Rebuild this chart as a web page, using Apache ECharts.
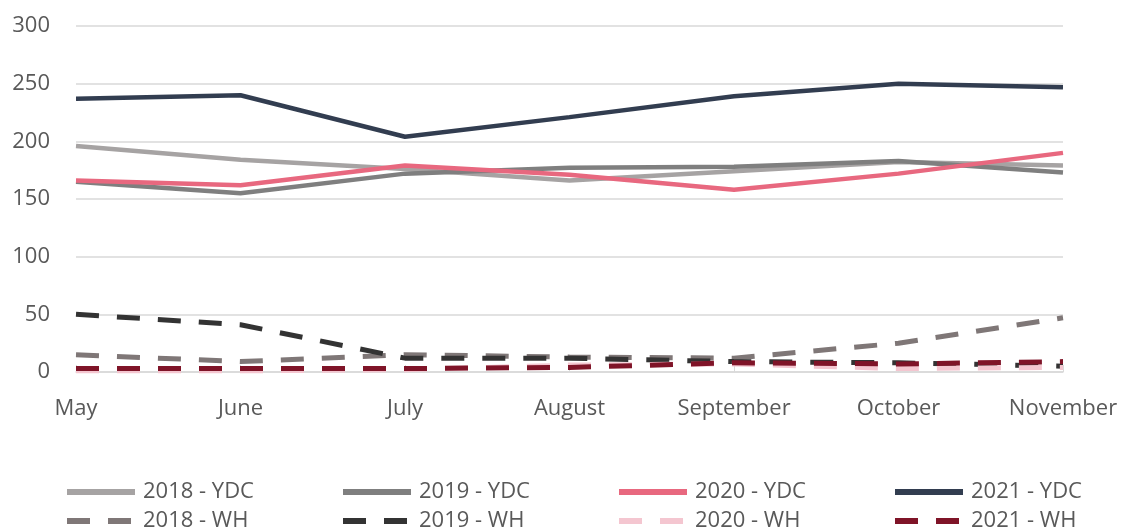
<!DOCTYPE html>
<html>
<head>
<meta charset="utf-8">
<script src="https://cdn.jsdelivr.net/npm/echarts@6/dist/echarts.min.js"></script>
<style>
  html, body { margin: 0; padding: 0; background: #fff; }
  #chart { width: 1122px; height: 530px; }
</style>
</head>
<body>
<div id="chart"></div>
<script>
(function () {
  'use strict';

  var months = ['May', 'June', 'July', 'August', 'September', 'October', 'November'];
  var yTicks = [0, 300, 50];

  var ydc2018 = [196, 184, 176, 166, 174, 182, 179];
  var ydc2019 = [165, 155, 172, 177, 178, 183, 173];
  var ydc2020 = [166, 162, 179, 171, 158, 172, 190];
  var ydc2021 = [237, 240, 204, 221, 239, 250, 247];

  var wh2018 = [15, 9, 15, 13, 12, 25, 47];
  var wh2019 = [50, 41, 12, 12, 9, 8, 5];
  var wh2020 = [1, 1, 2, 6, 7, 3, 4];
  var wh2021 = [3, 3, 3, 4, 8, 7, 9];

  var font = '"Open Sans", "Noto Sans", sans-serif';
  var textColor = '#595959';

  function line(name, data, color, dashed) {
    return {
      name: name,
      type: 'line',
      data: data,
      symbol: 'none',
      showSymbol: false,
      lineStyle: {
        color: color,
        width: dashed ? 5 : 4.5,
        type: dashed ? [23, 18] : 'solid',
        cap: 'butt'
      },
      itemStyle: { color: color }
    };
  }

  // one legend per item so the 4x2 layout is exact
  function legend(left, top, name) {
    return {
      left: left,
      top: top,
      itemWidth: 68,
      itemHeight: 14,
      data: [name],
      itemStyle: { opacity: 0 },
      lineStyle: { width: 6 },
      textStyle: {
        color: textColor,
        fontFamily: font,
        fontSize: 22,
        padding: [0, 0, 0, 3]
      }
    };
  }

  var myChart = echarts.init(document.getElementById('chart'));

  var option = {
    backgroundColor: '#fff',
    animation: false,
    grid: {
      left: 76,
      right: 59,
      top: 26,
      bottom: 158
    },
    legend: [
      legend(59, 476, '2018 - YDC'),
      legend(335, 476, '2019 - YDC'),
      legend(611, 476, '2020 - YDC'),
      legend(887, 476, '2021 - YDC'),
      legend(59, 505, '2018 - WH'),
      legend(335, 505, '2019 - WH'),
      legend(611, 505, '2020 - WH'),
      legend(887, 505, '2021 - WH')
    ],
    xAxis: {
      type: 'category',
      data: months,
      boundaryGap: false,
      axisLine: { lineStyle: { color: '#D9D9D9', width: 1.5 } },
      axisTick: { show: true, inside: true, length: 7, lineStyle: { color: '#D9D9D9' } },
      axisLabel: {
        color: textColor,
        fontFamily: font,
        fontSize: 22,
        margin: 26
      }
    },
    yAxis: {
      type: 'value',
      min: yTicks[0],
      max: yTicks[1],
      interval: yTicks[2],
      axisLine: { show: false },
      axisTick: { show: false },
      splitLine: { lineStyle: { color: '#D9D9D9', width: 1.5 } },
      axisLabel: {
        color: textColor,
        fontFamily: font,
        fontSize: 22,
        margin: 26
      }
    },
    series: [
      line('2018 - WH', wh2018, '#7F7777', true),
      line('2019 - WH', wh2019, '#333333', true),
      line('2020 - WH', wh2020, '#F4C6D0', true),
      line('2021 - WH', wh2021, '#7F1428', true),
      line('2018 - YDC', ydc2018, '#A6A3A3', false),
      line('2019 - YDC', ydc2019, '#7F7F7F', false),
      line('2021 - YDC', ydc2021, '#323D50', false),
      line('2020 - YDC', ydc2020, '#E8687F', false)
    ]
  };

  myChart.setOption(option);
})();
</script>
</body>
</html>
